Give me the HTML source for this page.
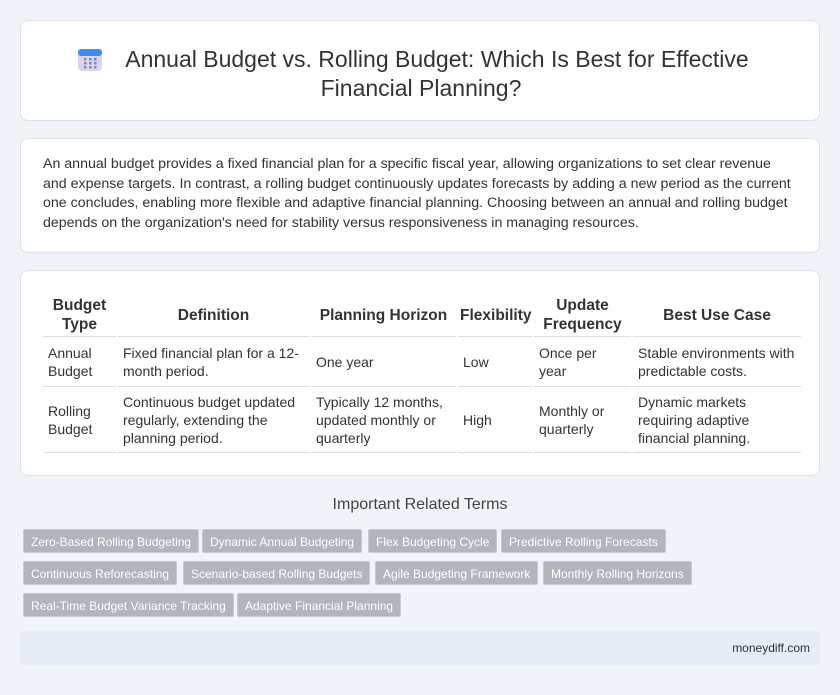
<!DOCTYPE html>
<html><head><style>
*{margin:0;padding:0;box-sizing:border-box}
body{width:840px;height:695px;background:#f0f3f8;font-family:"Liberation Sans",Arial,sans-serif;color:#333;position:relative;overflow:hidden}
.card{position:absolute;left:20px;width:800px;background:#fff;border:1px solid #dde2ea;border-radius:8px}
h1{position:absolute;left:0;width:800px;top:24px;text-align:center;font-size:23px;font-weight:normal;line-height:29px;color:#333}
p{position:absolute;left:22px;right:10px;top:16px;font-size:14.2px;line-height:19.5px;color:#333;white-space:nowrap}
table{position:absolute;left:20px;top:23px;width:762px;border-collapse:separate;border-spacing:2px 0;table-layout:fixed}
th{font-size:15.5px;font-weight:bold;text-align:center;line-height:19px;height:43px;border-bottom:1px solid #ddd;padding:0 2px}
td{font-size:14px;line-height:18px;padding:4px 5px;border-bottom:1px solid #ddd;vertical-align:middle}
.tag{position:absolute;height:24px;line-height:24px;background:#b0b5be;color:#fff;font-size:12px;padding:0 7px;border-radius:2px;border:1px solid #c6cad1;white-space:nowrap}
</style></head><body>
<div class="card" style="top:20px;height:101px">
<svg style="position:absolute;left:57px;top:26px" width="24" height="24" viewBox="0 0 24 24"><rect x="0" y="2" width="24" height="22" rx="4" fill="#dcd3f0"/><rect x="0" y="2" width="24" height="7" rx="3" fill="#3d8ef0"/><g fill="#8e8aa0"><rect x="6" y="11" width="2.5" height="2.5"/><rect x="11" y="11" width="2.5" height="2.5"/><rect x="6" y="15" width="2.5" height="2.5"/><rect x="11" y="15" width="2.5" height="2.5"/><rect x="16" y="15" width="2.5" height="2.5"/><rect x="6" y="19" width="2.5" height="2.5"/><rect x="11" y="19" width="2.5" height="2.5"/><rect x="16" y="19" width="2.5" height="2.5"/></g><rect x="16" y="11" width="2.5" height="2.5" fill="#3d8ef0"/></svg>
<h1>&nbsp;&nbsp;&nbsp;&nbsp;&nbsp;Annual Budget vs. Rolling Budget: Which Is Best for Effective<br>Financial Planning?</h1>
</div>
<div class="card" style="top:138px;height:115px">
<p>An annual budget provides a fixed financial plan for a specific fiscal year, allowing organizations to set clear revenue<br>and expense targets. In contrast, a rolling budget continuously updates forecasts by adding a new period as the current<br>one concludes, enabling more flexible and adaptive financial planning. Choosing between an annual and rolling budget<br>depends on the organization's need for stability versus responsiveness in managing resources.</p>
</div>
<div class="card" style="top:270px;height:206px">
<table>
<colgroup><col style="width:73px"><col style="width:191px"><col style="width:145px"><col style="width:74px"><col style="width:97px"><col></colgroup>
<tr><th>Budget<br>Type</th><th>Definition</th><th>Planning Horizon</th><th>Flexibility</th><th>Update<br>Frequency</th><th>Best Use Case</th></tr>
<tr style="height:50px"><td>Annual<br>Budget</td><td>Fixed financial plan for a 12-month period.</td><td>One year</td><td>Low</td><td>Once per<br>year</td><td>Stable environments with predictable costs.</td></tr>
<tr style="height:66px"><td>Rolling<br>Budget</td><td>Continuous budget updated regularly, extending the planning period.</td><td>Typically 12 months, updated monthly or quarterly</td><td>High</td><td>Monthly or<br>quarterly</td><td>Dynamic markets requiring adaptive financial planning.</td></tr>
</table>
</div>
<div style="position:absolute;top:496px;left:0;width:840px;text-align:center;font-size:16px;color:#444">Important Related Terms</div>
<div class="tag" style="left:23px;top:529px">Zero-Based Rolling Budgeting</div>
<div class="tag" style="left:202px;top:529px">Dynamic Annual Budgeting</div>
<div class="tag" style="left:368px;top:529px">Flex Budgeting Cycle</div>
<div class="tag" style="left:501px;top:529px">Predictive Rolling Forecasts</div>
<div class="tag" style="left:23px;top:561px">Continuous Reforecasting</div>
<div class="tag" style="left:183px;top:561px">Scenario-based Rolling Budgets</div>
<div class="tag" style="left:375px;top:561px">Agile Budgeting Framework</div>
<div class="tag" style="left:543px;top:561px">Monthly Rolling Horizons</div>
<div class="tag" style="left:23px;top:593px">Real-Time Budget Variance Tracking</div>
<div class="tag" style="left:237px;top:593px">Adaptive Financial Planning</div>
<div style="position:absolute;left:20px;top:631px;width:800px;height:34px;background:#e6ecf5;text-align:right;padding-right:10px;line-height:34px;font-size:12px;color:#333">moneydiff.com</div>
</body></html>
